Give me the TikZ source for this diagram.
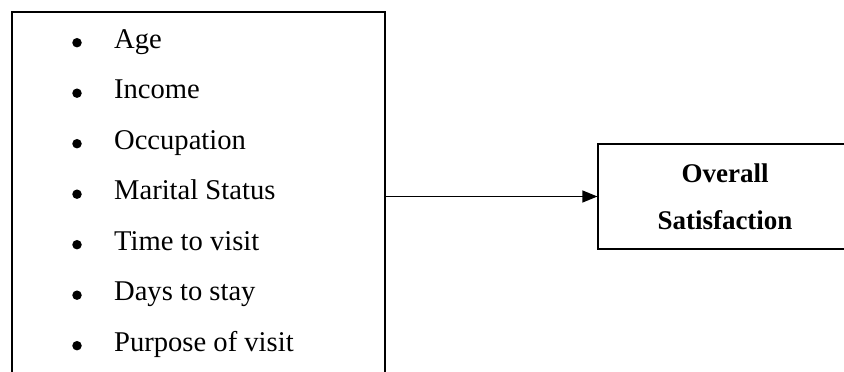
\documentclass[tikz,border=0pt]{standalone}
\usepackage{fontspec}
\setmainfont{Liberation Serif}
\usetikzlibrary{positioning,arrows.meta}

\tikzset{
  box/.style={draw, line width=1.2pt, inner sep=0pt},
  dot/.style={circle, fill, inner sep=0pt, minimum size=9.5pt},
  factor/.style={inner sep=0pt, font=\fontsize{28.6}{30}\selectfont},
}

\begin{document}
\begin{tikzpicture}[x=1pt, y=-1pt]
    \useasboundingbox (0,0) rectangle (844,372);
    % left box runs past the bottom edge
    \node[box, minimum width=373pt, minimum height=388pt] (factors) at (198.5, 206) {};
    \foreach \name [count=\i from 0] in {Age, Income, Occupation, Marital Status, Time to visit, Days to stay, Purpose of visit} {
        \node[dot] (b\i) at (77, 42.7+50.5*\i) {};
        \node[factor, base right=32pt of b\i, yshift=-5.3pt] (f\i) {\name};
    }
    % right box runs past the right edge
    \node[box, minimum width=254pt, minimum height=105pt, align=center,
          font=\fontsize{27}{47}\selectfont\bfseries] (overall) at (725, 196.5) {Overall\\Satisfaction};
    \draw[line width=1.2pt, -{Triangle[length=15pt, width=12pt]}] (overall.west -| factors.east) -- (overall.west);
\end{tikzpicture}
\end{document}
